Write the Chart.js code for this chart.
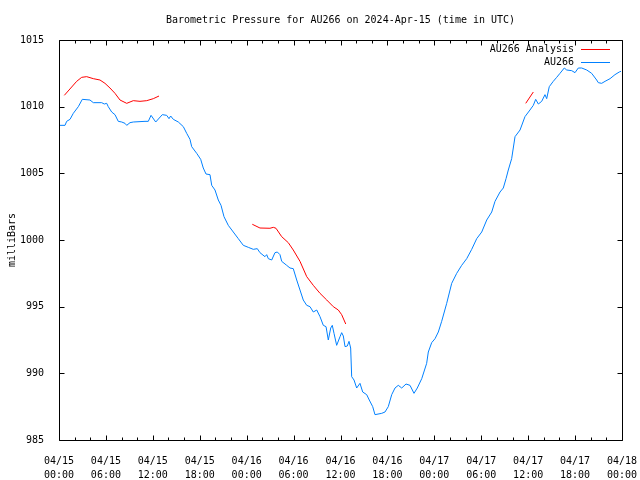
<!DOCTYPE html>
<html><head><meta charset="utf-8">
<script src="https://cdn.jsdelivr.net/npm/chart.js@4/dist/chart.umd.min.js"></script>
<style>html,body{margin:0;padding:0;background:#fff;overflow:hidden}</style>
</head><body>
<canvas id="c" width="640" height="480"></canvas>
<script>
const titleText = "Barometric Pressure for AU266 on 2024-Apr-15 (time in UTC)";
const yAxisLabel = "milliBars";
const seriesNames = ["AU266 Analysis", "AU266"];
const seriesColors = ["#ff0000", "#0080ff"];

// x ticks: hours since 2024-04-15 00:00 UTC
const xTickHours = [0, 6, 12, 18, 24, 30, 36, 42, 48, 54, 60, 66, 72];
const xTickLabels = ["04/15 00:00", "04/15 06:00", "04/15 12:00", "04/15 18:00",
  "04/16 00:00", "04/16 06:00", "04/16 12:00", "04/16 18:00",
  "04/17 00:00", "04/17 06:00", "04/17 12:00", "04/17 18:00", "04/18 00:00"];
const yTickValues = [985, 990, 995, 1000, 1005, 1010, 1015];

// AU266 observations
const obsHours = [0.13,0.77,0.98,1.41,1.83,2.47,2.98,3.96,4.39,5.46,5.79,6.10,6.30,6.74,7.16,7.58,8.02,8.44,8.66,9.08,9.50,11.0,11.42,11.77,12.37,13.21,13.77,14.07,14.28,14.62,15.26,15.90,16.33,16.75,16.97,17.61,18.12,18.45,18.80,19.31,19.53,19.95,20.37,20.72,21.10,21.65,22.29,22.93,23.57,24.21,24.85,25.36,25.70,26.34,26.56,26.77,27.20,27.62,27.92,28.26,28.48,29.12,29.54,29.96,30.40,30.82,31.24,31.68,32.10,32.52,32.96,33.38,33.80,34.15,34.44,34.75,34.95,35.17,35.51,35.94,36.15,36.36,36.58,36.87,37.09,37.30,37.43,37.73,38.07,38.49,38.84,39.35,39.68,40.12,40.41,41.27,41.69,42.11,42.55,42.97,43.39,43.83,44.38,44.89,45.40,45.82,46.39,47.02,47.23,47.66,48.09,48.51,48.94,49.58,50.22,50.86,51.50,52.14,52.78,53.42,54.06,54.70,55.34,55.76,56.40,56.82,57.17,57.46,57.89,58.32,58.96,59.59,60.23,60.66,60.96,61.30,61.73,62.15,62.37,62.70,63.21,63.65,64.07,64.62,64.93,65.57,65.99,66.41,66.85,67.49,68.12,68.76,68.97,69.40,69.83,70.47,71.10,71.65,71.87];
const obsPressure = [1008.6,1008.6,1008.9,1009.05,1009.5,1010.0,1010.55,1010.5,1010.3,1010.3,1010.2,1010.25,1010.0,1009.6,1009.4,1008.9,1008.85,1008.75,1008.6,1008.8,1008.85,1008.9,1008.9,1009.35,1008.85,1009.4,1009.35,1009.1,1009.3,1009.05,1008.85,1008.5,1008.0,1007.55,1007.0,1006.5,1006.05,1005.4,1004.95,1004.9,1004.1,1003.75,1003.0,1002.6,1001.75,1001.1,1000.6,1000.1,999.6,999.45,999.3,999.35,999.05,998.75,998.9,998.6,998.5,999.05,999.1,998.9,998.4,998.1,997.9,997.85,997.0,996.25,995.5,995.1,995.0,994.6,994.75,994.25,993.6,993.5,992.5,993.4,993.6,993.0,992.1,992.75,993.05,992.8,992.0,992.05,992.4,991.9,989.75,989.5,988.9,989.25,988.6,988.4,988.0,987.5,986.9,987.0,987.1,987.5,988.4,988.9,989.1,988.9,989.2,989.1,988.5,988.9,989.6,990.75,991.6,992.3,992.6,993.1,993.9,995.25,996.75,997.5,998.1,998.6,999.3,1000.1,1000.6,1001.5,1002.1,1002.9,1003.6,1003.9,1004.6,1005.25,1006.1,1007.75,1008.25,1009.25,1009.75,1010.1,1010.55,1010.2,1010.4,1010.9,1010.6,1011.5,1011.9,1012.2,1012.5,1012.9,1012.75,1012.7,1012.55,1012.9,1012.9,1012.75,1012.5,1012.0,1011.8,1011.75,1011.9,1012.1,1012.4,1012.6,1012.65];

// AU266 Analysis (null = gap between runs)
const anaHours = [0.68,2.26,2.90,3.54,4.39,5.24,5.88,6.52,7.16,7.80,8.66,9.50,10.36,11.22,12.06,12.79, 18.0,
  24.72,25.70,26.98,27.41,27.75,28.48,29.32,29.96,30.82,31.68,32.52,33.38,34.24,35.08,35.72,36.15,36.67, 48.0,
  59.69,60.66];
const anaPressure = [1010.85,1011.9,1012.2,1012.25,1012.1,1012.0,1011.75,1011.4,1011.0,1010.5,1010.25,1010.45,1010.4,1010.45,1010.6,1010.8, null,
  1001.18,1000.9,1000.88,1000.95,1000.88,1000.25,999.8,999.25,998.4,997.25,996.6,996.0,995.5,995.0,994.75,994.4,993.7, null,
  1010.25,1011.1];

const FONT = "'DejaVu Sans Mono', 'Liberation Mono', monospace";

const framePlugin = {
  id: 'frame',
  afterDraw(chart) {
    const ctx = chart.ctx, a = chart.chartArea;
    const xs = chart.scales.x, ys = chart.scales.y;
    ctx.save();
    ctx.strokeStyle = '#000';
    ctx.lineWidth = 1;
    const L = Math.round(a.left) + 0.5, R = Math.round(a.right) + 0.5;
    const T = Math.round(a.top) + 0.5, B = Math.round(a.bottom) + 0.5;
    ctx.beginPath();
    ctx.rect(L, T, R - L, B - T);
    // x ticks every 2 h, major every 6 h
    for (let h = xs.min; h <= xs.max; h += 2) {
      const px = Math.round(xs.getPixelForValue(h)) + 0.5;
      const len = (h % 6 === 0) ? 5 : 3;
      ctx.moveTo(px, B); ctx.lineTo(px, B - len);
      ctx.moveTo(px, T); ctx.lineTo(px, T + len);
    }
    yTickValues.forEach(v => {
      const py = Math.round(ys.getPixelForValue(v)) + 0.5;
      ctx.moveTo(L, py); ctx.lineTo(L + 5, py);
      ctx.moveTo(R, py); ctx.lineTo(R - 5, py);
    });
    ctx.stroke();
    // title
    ctx.fillStyle = '#000';
    ctx.font = "10px " + FONT;
    ctx.textAlign = 'center';
    ctx.textBaseline = 'middle';
    ctx.fillText(titleText, (a.left + a.right) / 2, 20);
    // legend (text then line sample)
    ctx.textAlign = 'right';
    chart.data.datasets.forEach((ds, i) => {
      const y = a.top + 9 + i * 13;
      ctx.fillText(ds.label, a.right - 48, y);
      ctx.beginPath();
      ctx.strokeStyle = ds.borderColor;
      ctx.moveTo(a.right - 41, Math.round(y) + 0.5);
      ctx.lineTo(a.right - 12, Math.round(y) + 0.5);
      ctx.stroke();
    });
    ctx.restore();
  }
};

const toPoints = (xs, ys) => xs.map((x, i) => ({x: x, y: ys[i]}));

new Chart(document.getElementById('c'), {
  type: 'line',
  data: {
    datasets: [
      { label: seriesNames[0], data: toPoints(anaHours, anaPressure), borderColor: seriesColors[0],
        borderWidth: 1, pointRadius: 0, tension: 0, spanGaps: false, fill: false },
      { label: seriesNames[1], data: toPoints(obsHours, obsPressure), borderColor: seriesColors[1],
        borderWidth: 1, pointRadius: 0, tension: 0, spanGaps: false, fill: false }
    ]
  },
  options: {
    responsive: false,
    animation: false,
    devicePixelRatio: 1,
    layout: { padding: { top: 40, right: 18, left: 0, bottom: 0 } },
    plugins: { legend: { display: false }, title: { display: false }, tooltip: { enabled: false } },
    scales: {
      x: {
        type: 'linear', min: 0, max: 72,
        grid: { display: false }, border: { display: false },
        afterBuildTicks: s => { s.ticks = xTickHours.map(v => ({ value: v })); },
        afterFit: s => { s.height = 40; s.paddingLeft = 0; s.paddingRight = 0; },
        ticks: {
          autoSkip: false, maxRotation: 0, minRotation: 0, padding: 6, color: '#000',
          font: { family: FONT, size: 10, lineHeight: 1.45 },
          callback: v => { const i = xTickHours.indexOf(v); return i >= 0 ? xTickLabels[i].split(' ') : ''; }
        }
      },
      y: {
        type: 'linear', min: 985, max: 1015,
        grid: { display: false }, border: { display: false },
        afterBuildTicks: s => { s.ticks = yTickValues.map(v => ({ value: v })); },
        afterFit: s => { s.width = 59; s.paddingTop = 0; s.paddingBottom = 0; },
        ticks: { padding: 7, color: '#000', font: { family: FONT, size: 10 }, callback: v => String(v) },
        title: { display: true, text: yAxisLabel, color: '#000', font: { family: FONT, size: 10 },
          padding: { top: 6, bottom: 0 } }
      }
    }
  },
  plugins: [framePlugin]
});
</script>
</body></html>
